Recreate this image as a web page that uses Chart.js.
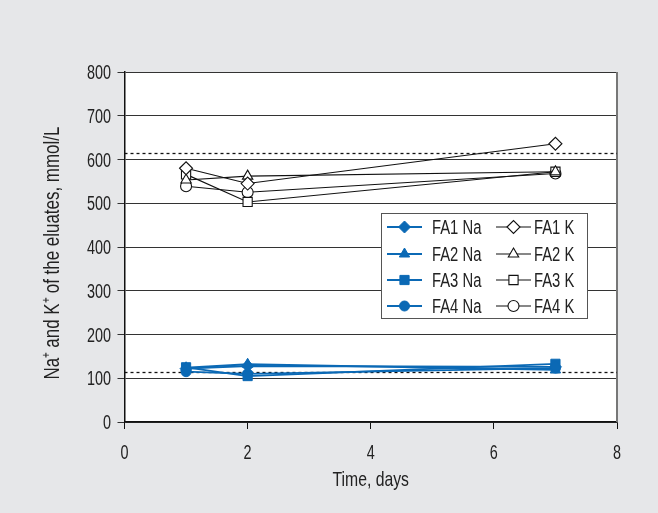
<!DOCTYPE html>
<html>
<head>
<meta charset="utf-8">
<script src="https://cdn.jsdelivr.net/npm/chart.js@4/dist/chart.umd.min.js"></script>
<style>
html,body{margin:0;padding:0;background:#e6e7e9;}
#wrap{width:658px;height:513px;}
</style>
</head>
<body>
<div id="wrap"><canvas id="c" width="658" height="513"></canvas></div>
<script>
const days = [1, 2, 7];
const fa1Na = [122, 128, 126];
const fa2Na = [124, 132, 119];
const fa3Na = [125, 105, 133];
const fa4Na = [115, 110, 123];
const fa1K = [580, 545, 636];
const fa2K = [553, 562, 572];
const fa3K = [566, 503, 572];
const fa4K = [539, 525, 568];
const limitLines = [615, 114];
const xTicks = [0, 2, 4, 6, 8];
const yTicks = [0, 100, 200, 300, 400, 500, 600, 700, 800];
const xTitle = 'Time, days';
const yTitle = 'Na\u207A and K\u207A of the eluates, mmol/L';

const FONT = "'Liberation Sans', Arial, sans-serif";
const TXT = '#222';
const BLUE = '#0b69b5';

function pts(ys){ return days.map((d,i)=>({x:d,y:ys[i]})); }

function naSet(label, ys, style, r){
  return {label, data: pts(ys), borderColor: BLUE, backgroundColor: BLUE,
    borderWidth: 1.8, pointStyle: style, pointRadius: r, pointBorderWidth: 1,
    pointBorderColor: BLUE, pointBackgroundColor: BLUE, showLine: true, tension: 0};
}
function kSet(label, ys, style, r){
  return {label, data: pts(ys), borderColor: '#111', backgroundColor: '#fff',
    borderWidth: 1.1, pointStyle: style, pointRadius: r, pointBorderWidth: 1.1,
    pointBorderColor: '#111', pointBackgroundColor: '#fff', showLine: true, tension: 0};
}

const datasets = [
  naSet('FA1 Na', fa1Na, 'rectRot', 6),
  naSet('FA2 Na', fa2Na, 'triangle', 6),
  naSet('FA3 Na', fa3Na, 'rect', 6.5),
  naSet('FA4 Na', fa4Na, 'circle', 5),
  kSet('FA1 K', fa1K, 'rectRot', 6.5),
  kSet('FA2 K', fa2K, 'triangle', 6),
  kSet('FA3 K', fa3K, 'rect', 6.5),
  kSet('FA4 K', fa4K, 'circle', 5.5)
];

function condText(ctx, text, x, y, align, sx, rot){
  ctx.save();
  ctx.translate(x, y);
  if (rot) ctx.rotate(rot);
  ctx.scale(sx, 1);
  ctx.textAlign = align;
  ctx.textBaseline = 'alphabetic';
  ctx.fillText(text, 0, 0);
  ctx.restore();
}

const bgPlugin = {
  id: 'bg',
  beforeDraw(chart){
    const {ctx, chartArea:a} = chart;
    ctx.save();
    ctx.fillStyle = '#e6e7e9';
    ctx.fillRect(0,0,chart.width,chart.height);
    ctx.fillStyle = '#fff';
    ctx.fillRect(a.left, a.top, a.right-a.left, a.bottom-a.top);
    ctx.restore();
  },
  beforeDatasetsDraw(chart){
    const {ctx, chartArea:a, scales} = chart;
    ctx.save();
    ctx.strokeStyle = '#777';
    ctx.lineWidth = 2;
    ctx.beginPath();
    ctx.moveTo(scales.x.getPixelForValue(8), a.top);
    ctx.lineTo(scales.x.getPixelForValue(8), a.bottom);
    ctx.stroke();
    ctx.strokeStyle = '#111';
    ctx.lineWidth = 1.3;
    ctx.setLineDash([3,3]);
    limitLines.forEach(v=>{
      const y = Math.round(scales.y.getPixelForValue(v))+0.5;
      ctx.beginPath();
      ctx.moveTo(a.left, y);
      ctx.lineTo(a.right, y);
      ctx.stroke();
    });
    ctx.restore();
  },
  afterDraw(chart){
    const {ctx, chartArea:a, scales} = chart;
    ctx.save();
    ctx.fillStyle = TXT;
    ctx.font = '20px ' + FONT;
    scales.y.ticks.forEach(t=>{
      condText(ctx, String(t.value), 111, scales.y.getPixelForValue(t.value)+7, 'right', 0.72);
    });
    scales.x.ticks.forEach(t=>{
      condText(ctx, String(t.value), scales.x.getPixelForValue(t.value), 459, 'center', 0.72);
    });
    ctx.font = '21px ' + FONT;
    condText(ctx, xTitle, (a.left+a.right)/2, 486, 'center', 0.75);
    ctx.font = '22px ' + FONT;
    condText(ctx, yTitle, 59, 253, 'center', 0.77, -Math.PI/2);
    ctx.restore();
  }
};

function drawMarker(ctx, ds, x, y){
  const opts = {pointStyle: ds.pointStyle, radius: ds.pointRadius, rotation: 0, borderWidth: ds.pointBorderWidth};
  ctx.fillStyle = ds.pointBackgroundColor;
  ctx.strokeStyle = ds.pointBorderColor;
  ctx.lineWidth = ds.pointBorderWidth;
  if (Chart.helpers && Chart.helpers.drawPoint) {
    Chart.helpers.drawPoint(ctx, opts, x, y);
  } else {
    ctx.beginPath(); ctx.arc(x,y,ds.pointRadius,0,Math.PI*2); ctx.fill(); ctx.stroke();
  }
}

const legendPlugin = {
  id: 'boxLegend',
  afterDatasetsDraw(chart){
    const {ctx} = chart;
    const bx = 381.5, by = 213.5, bw = 206, bh = 105;
    ctx.save();
    ctx.fillStyle = '#fff';
    ctx.fillRect(bx, by, bw, bh);
    ctx.strokeStyle = '#555';
    ctx.lineWidth = 1;
    ctx.strokeRect(bx, by, bw, bh);
    const rows = [227, 254, 280, 306];
    const cols = [{l:387, r:422, t:432}, {l:496, r:531, t:534}];
    ctx.font = '20px ' + FONT;
    chart.data.datasets.forEach((ds, i)=>{
      const c = cols[Math.floor(i/4)], y = rows[i%4];
      ctx.strokeStyle = ds.borderColor;
      ctx.lineWidth = ds.borderWidth;
      ctx.setLineDash([]);
      ctx.beginPath(); ctx.moveTo(c.l, y); ctx.lineTo(c.r, y); ctx.stroke();
      drawMarker(ctx, ds, (c.l+c.r)/2, y);
      ctx.fillStyle = TXT;
      condText(ctx, ds.label, c.t, y+7, 'left', 0.74);
    });
    ctx.restore();
  }
};

new Chart(document.getElementById('c'), {
  type: 'scatter',
  data: {datasets},
  plugins: [bgPlugin, legendPlugin],
  options: {
    responsive: false,
    animation: false,
    events: [],
    layout: {padding: {left: 0, right: 41, top: 72, bottom: 0}},
    plugins: {legend: {display: false}, tooltip: {enabled: false}},
    scales: {
      x: {
        type: 'linear', min: 0, max: 8,
        afterBuildTicks(s){ s.ticks = xTicks.map(v=>({value:v})); },
        afterFit(s){ s.height = 91; },
        border: {color: '#111', width: 1.5},
        grid: {drawOnChartArea: false, drawTicks: true, tickLength: 7, color: '#111', lineWidth: 1},
        ticks: {display: false}
      },
      y: {
        type: 'linear', min: 0, max: 800,
        afterBuildTicks(s){ s.ticks = yTicks.map(v=>({value:v})); },
        afterFit(s){ s.width = 124.5; },
        border: {color: '#111', width: 1.5},
        grid: {color: '#333', lineWidth: 1, drawTicks: true, tickLength: 7},
        ticks: {display: false}
      }
    }
  }
});
</script>
</body>
</html>
